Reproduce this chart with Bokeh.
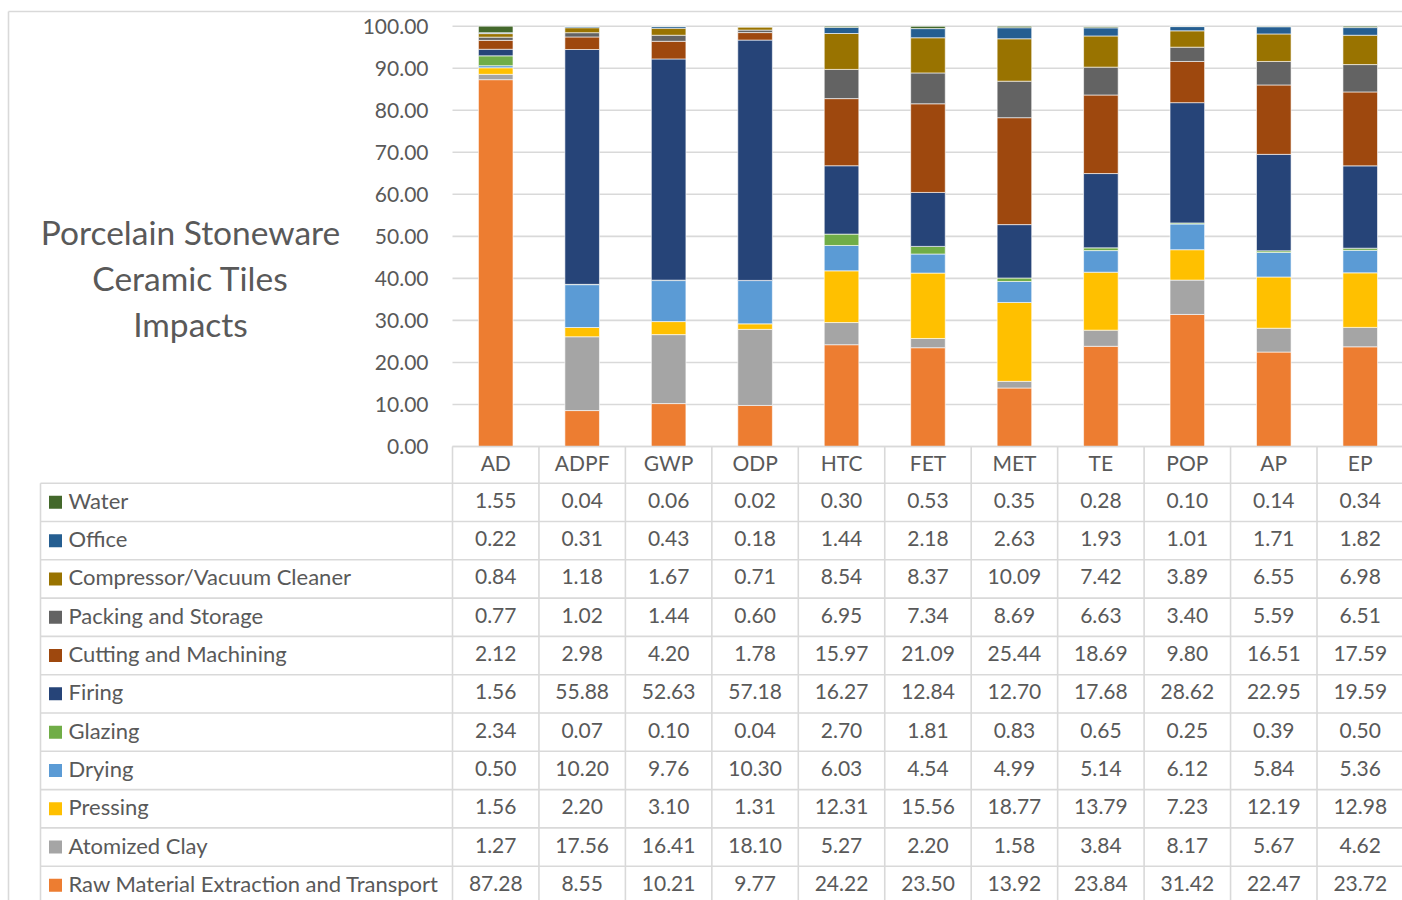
from bokeh.plotting import figure
from bokeh.models import Range1d, ColumnDataSource
from bokeh.core.properties import value
from bokeh.embed import file_html
from bokeh.resources import INLINE

# ---- data -------------------------------------------------------------
categories = ["AD", "ADPF", "GWP", "ODP", "HTC", "FET", "MET", "TE", "POP", "AP", "EP"]

raw_material = [87.28, 8.55, 10.21, 9.77, 24.22, 23.50, 13.92, 23.84, 31.42, 22.47, 23.72]
atomized_clay = [1.27, 17.56, 16.41, 18.10, 5.27, 2.20, 1.58, 3.84, 8.17, 5.67, 4.62]
pressing = [1.56, 2.20, 3.10, 1.31, 12.31, 15.56, 18.77, 13.79, 7.23, 12.19, 12.98]
drying = [0.50, 10.20, 9.76, 10.30, 6.03, 4.54, 4.99, 5.14, 6.12, 5.84, 5.36]
glazing = [2.34, 0.07, 0.10, 0.04, 2.70, 1.81, 0.83, 0.65, 0.25, 0.39, 0.50]
firing = [1.56, 55.88, 52.63, 57.18, 16.27, 12.84, 12.70, 17.68, 28.62, 22.95, 19.59]
cutting = [2.12, 2.98, 4.20, 1.78, 15.97, 21.09, 25.44, 18.69, 9.80, 16.51, 17.59]
packing = [0.77, 1.02, 1.44, 0.60, 6.95, 7.34, 8.69, 6.63, 3.40, 5.59, 6.51]
compressor = [0.84, 1.18, 1.67, 0.71, 8.54, 8.37, 10.09, 7.42, 3.89, 6.55, 6.98]
office = [0.22, 0.31, 0.43, 0.18, 1.44, 2.18, 2.63, 1.93, 1.01, 1.71, 1.82]
water = [1.55, 0.04, 0.06, 0.02, 0.30, 0.53, 0.35, 0.28, 0.10, 0.14, 0.34]

y_ticks = [0, 10, 20, 30, 40, 50, 60, 70, 80, 90, 100]
title_lines = ["Porcelain Stoneware", "Ceramic Tiles", "Impacts"]

# stacking order, bottom to top
series = [
    ("Raw Material Extraction and Transport", raw_material, "#ED7D31"),
    ("Atomized Clay", atomized_clay, "#A5A5A5"),
    ("Pressing", pressing, "#FFC000"),
    ("Drying", drying, "#5B9BD5"),
    ("Glazing", glazing, "#70AD47"),
    ("Firing", firing, "#264478"),
    ("Cutting and Machining", cutting, "#9E480E"),
    ("Packing and Storage", packing, "#636363"),
    ("Compressor/Vacuum Cleaner", compressor, "#997300"),
    ("Office", office, "#255E91"),
    ("Water", water, "#43682B"),
]

# ---- layout (pixels) --------------------------------------------------
W, H = 1402, 900
PLOT_LEFT = 452.0      # left edge of the first category column
COL_W = 86.45          # width of one category column
Y0_PX = 446.0          # pixel row of value 0
Y100_PX = 25.7         # pixel row of value 100
HEADER_BOTTOM = 482.7  # bottom of the category header row
ROW_H = 38.3           # table row height
TABLE_LEFT = 40.0
TEXT_SHIFT = -2.0      # nudge for vertical centring of text in cells

scale = (Y0_PX - Y100_PX) / 100.0
TEXT = "#595959"
LINE = "#D9D9D9"
FONT = value("Lato")
NUM_SIZE = value("21px")
LABEL_SIZE = value("22px")

p = figure(
    width=W, height=H,
    x_range=Range1d(-PLOT_LEFT / COL_W, (W - PLOT_LEFT) / COL_W),
    y_range=Range1d(-(H - Y0_PX) / scale, Y0_PX / scale),
    x_axis_type=None, y_axis_type=None,
    output_backend="svg", toolbar_location=None,
    min_border=0, outline_line_color=None,
    background_fill_color="white", border_fill_color="white",
)
p.extra_x_ranges = {"px": Range1d(0, W)}
p.extra_y_ranges = {"py": Range1d(H, 0)}

n = len(categories)
xc = [i + 0.5 for i in range(n)]

# horizontal gridlines of the value axis
p.segment(x0=[0] * len(y_ticks), x1=[n + 1] * len(y_ticks), y0=y_ticks, y1=y_ticks,
          line_color=LINE, line_width=1.6)

# stacked bars
src = ColumnDataSource(dict(x=xc, **{name: vals for name, vals, _ in series}))
p.vbar_stack([name for name, _, _ in series], x="x", width=0.4, source=src,
             fill_color=[c for _, _, c in series], line_color="white",
             line_width=1, line_alpha=0.6)

# value axis labels
p.text(x=[PLOT_LEFT - 24] * len(y_ticks), y=y_ticks, text=[f"{t:.2f}" for t in y_ticks],
       x_range_name="px", text_align="right", text_baseline="middle",
       text_font=FONT, text_font_size=NUM_SIZE, text_color=TEXT)

# chart title on the left
p.text(x=[190] * len(title_lines), y=[231 + 46 * k for k in range(len(title_lines))],
       text=title_lines, x_range_name="px", y_range_name="py",
       text_align="center", text_baseline="middle",
       text_font=FONT, text_font_size=value("33.5px"), text_color=TEXT)

# ---- data table -------------------------------------------------------
table_rows = list(reversed(series))   # Water first
n_rows = len(table_rows)

# horizontal rules
hy = [HEADER_BOTTOM + k * ROW_H for k in range(n_rows + 1)]
p.segment(x0=[TABLE_LEFT] * len(hy), x1=[W] * len(hy), y0=hy, y1=hy,
          x_range_name="px", y_range_name="py", line_color=LINE, line_width=1.6)
p.segment(x0=[PLOT_LEFT], x1=[W], y0=[Y0_PX], y1=[Y0_PX],
          x_range_name="px", y_range_name="py", line_color=LINE, line_width=1.6)
# vertical rules
vx = [k for k in range(n + 1)]
p.segment(x0=vx, x1=vx, y0=[Y0_PX] * len(vx), y1=[H] * len(vx),
          y_range_name="py", line_color=LINE, line_width=1.6)
p.segment(x0=[TABLE_LEFT], x1=[TABLE_LEFT], y0=[HEADER_BOTTOM], y1=[H],
          x_range_name="px", y_range_name="py", line_color=LINE, line_width=1.6)

# outer chart frame
p.segment(x0=[8, 8], x1=[8, W], y0=[11, 11], y1=[H, 11],
          x_range_name="px", y_range_name="py", line_color=LINE, line_width=1.6)

# header: category names
p.text(x=xc, y=[464 + TEXT_SHIFT] * n, text=categories, y_range_name="py",
       text_align="center", text_baseline="middle",
       text_font=FONT, text_font_size=NUM_SIZE, text_color=TEXT)

row_y = [HEADER_BOTTOM + ROW_H * (r + 0.5) for r in range(n_rows)]
text_y = [y + TEXT_SHIFT for y in row_y]

# legend keys and labels
p.scatter(x=[55] * n_rows, y=row_y, marker="square", size=13,
          fill_color=[c for _, _, c in table_rows], line_color=None,
          x_range_name="px", y_range_name="py")
p.text(x=[68] * n_rows, y=text_y, text=[name for name, _, _ in table_rows],
       x_range_name="px", y_range_name="py", text_align="left", text_baseline="middle",
       text_font=FONT, text_font_size=LABEL_SIZE, text_color=TEXT)

# cell values
cx, cy, ct = [], [], []
for r, (_, vals, _) in enumerate(table_rows):
    for i, v in enumerate(vals):
        cx.append(xc[i])
        cy.append(text_y[r])
        ct.append(f"{v:.2f}")
p.text(x=cx, y=cy, text=ct, y_range_name="py", text_align="center", text_baseline="middle",
       text_font=FONT, text_font_size=NUM_SIZE, text_color=TEXT)

open("out.html", "w").write(file_html(p, INLINE))
